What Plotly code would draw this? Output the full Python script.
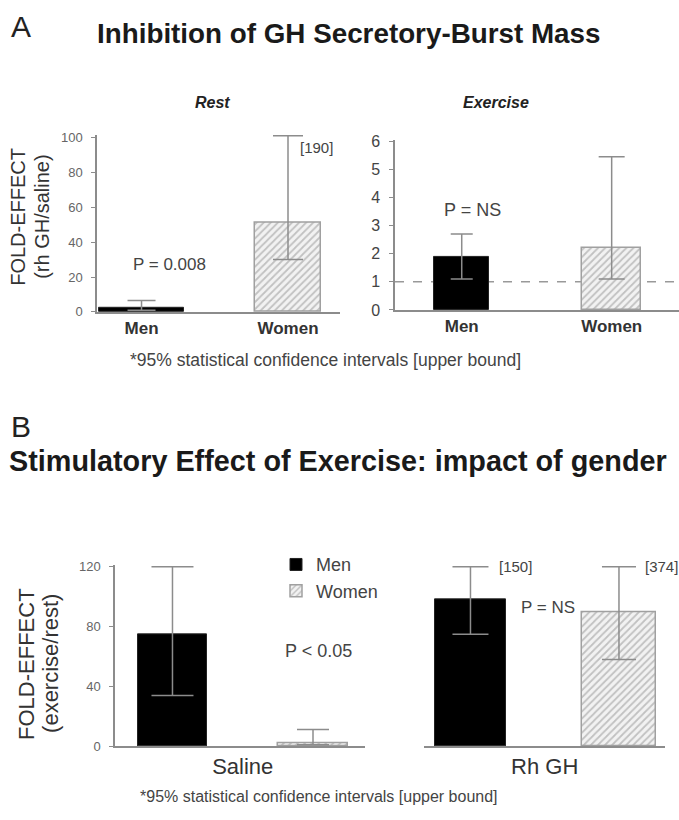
import plotly.graph_objects as go

W, H = 679, 820

# ---------------- data ----------------
sexes = ["Men", "Women"]

# Panel A (fold effect rh GH / saline)
rest_fold = [2.5, 51.0]
rest_lower = [1.0, 30.0]
rest_upper = [6.6, 190.0]
exercise_fold = [1.9, 2.2]
exercise_lower = [1.1, 1.1]
exercise_upper = [2.7, 5.45]

# Panel B (fold effect exercise / rest)
saline_fold = [75.0, 2.2]
saline_lower = [34.0, 1.0]
saline_upper = [120.0, 11.3]
rhgh_fold = [98.5, 89.5]
rhgh_lower = [75.0, 58.0]
rhgh_upper = [150.0, 374.0]

rest_ticks = [0, 20, 40, 60, 80, 100]
exercise_ticks = [0, 1, 2, 3, 4, 5, 6]
b_ticks = [0, 40, 80, 120]
reference_line = 1.0

FONT = "Liberation Sans, Arial, sans-serif"
ERR = "#8c8c8c"
AX = "#8c8c8c"


def xp(p):
    return p / W


def yp(p):
    return 1 - p / H


fig = go.Figure()


def add_bar(i, vals, lo, hi, shown_max, xa, ya, width, capw, showlegend=False):
    v = vals[i]
    up = min(hi[i], shown_max)
    men = sexes[i] == "Men"
    if men:
        marker = dict(color="#000000", line=dict(color="#222222", width=1))
    else:
        marker = dict(color="#f2f2f2",
                      pattern=dict(shape="/", fgcolor="#8f8f8f", bgcolor="#f2f2f2",
                                   size=5, solidity=0.35),
                      line=dict(color="#a0a0a0", width=1.5))
    fig.add_trace(go.Bar(
        x=[i], y=[v], width=width, xaxis=xa, yaxis=ya,
        name=sexes[i], legendgroup=sexes[i], showlegend=showlegend,
        marker=marker,
        error_y=dict(type="data", symmetric=False, array=[up - v],
                     arrayminus=[v - lo[i]], color=ERR, thickness=1.5, width=capw),
        hoverinfo="skip",
    ))


# Panel A left (rest)
add_bar(0, rest_fold, rest_lower, rest_upper, 101, "x", "y", 0.58, 14)
add_bar(1, rest_fold, rest_lower, rest_upper, 101, "x", "y", 0.45, 15)
# Panel A right (exercise)
add_bar(0, exercise_fold, exercise_lower, exercise_upper, 6, "x2", "y2", 0.37, 11)
add_bar(1, exercise_fold, exercise_lower, exercise_upper, 6, "x2", "y2", 0.39, 13)
# Panel B left (saline)
add_bar(0, saline_fold, saline_lower, saline_upper, 120, "x3", "y3", 0.49, 21, True)
add_bar(1, saline_fold, saline_lower, saline_upper, 120, "x3", "y3", 0.50, 16, True)
# Panel B right (rh GH)
add_bar(0, rhgh_fold, rhgh_lower, rhgh_upper, 120, "x4", "y4", 0.48, 18)
add_bar(1, rhgh_fold, rhgh_lower, rhgh_upper, 120, "x4", "y4", 0.50, 17)

common_x = dict(showgrid=False, zeroline=False, showline=True, linecolor=AX,
                linewidth=1.5, ticks="", fixedrange=True)
common_y = dict(showgrid=False, zeroline=False, showline=True, linecolor=AX,
                linewidth=1.5, ticks="outside", ticklen=4, tickcolor=AX,
                tickwidth=1.2, fixedrange=True, ticklabelstandoff=6)

# pixel geometry
tl_ppu = (311 - 133) / 100
tl_top = 311 - 101.5 * tl_ppu
tr_ppu = (309 - 137) / 6
tr_top = 309 - 6.05 * tr_ppu
b_ppu = (754 - 571) / 120
b_top = 754 - 121 * b_ppu

fig.update_layout(
    xaxis=dict(common_x, domain=[xp(97), xp(340)], range=[-0.304, 1.355],
               tickvals=[0, 1], ticktext=["<b>Men</b>", "<b>Women</b>"],
               tickfont=dict(size=17, color="#333333"), anchor="y"),
    yaxis=dict(common_y, domain=[yp(311), yp(tl_top)], range=[0, 101.5],
               tickvals=rest_ticks, tickfont=dict(size=13, color="#666666"),
               anchor="x"),
    xaxis2=dict(common_x, domain=[xp(395), 1.0], range=[-0.445, 1.449],
                tickvals=[0, 1], ticktext=["<b>Men</b>", "<b>Women</b>"],
                tickfont=dict(size=17, color="#333333"), anchor="y2"),
    yaxis2=dict(common_y, domain=[yp(309), yp(tr_top)], range=[0, 6.05],
                tickvals=exercise_ticks, tickfont=dict(size=16, color="#444444"),
                anchor="x2"),
    xaxis3=dict(common_x, domain=[xp(115), xp(365)], range=[-0.409, 1.37],
                tickvals=[0.5], ticktext=["Saline"],
                tickfont=dict(size=22, color="#333333"), anchor="y3"),
    yaxis3=dict(common_y, domain=[yp(754), yp(b_top)], range=[0, 121],
                tickvals=b_ticks, tickfont=dict(size=13, color="#666666"),
                anchor="x3"),
    xaxis4=dict(common_x, domain=[xp(424), xp(665)], range=[-0.313, 1.31],
                tickvals=[0.5], ticktext=["Rh GH"],
                tickfont=dict(size=22, color="#333333"), anchor="y4"),
    yaxis4=dict(domain=[yp(754), yp(b_top)], range=[0, 121], visible=False,
                fixedrange=True, anchor="x4"),
)

fig.add_shape(type="line", xref="x2 domain", yref="y2", x0=0, x1=1,
              y0=reference_line, y1=reference_line, layer="below",
              line=dict(color="#999999", width=1.5, dash="dash"))

ann = []


def text(t, x, y, size, color="#333333", xanchor="left", angle=0):
    ann.append(dict(text=t, x=xp(x), y=yp(y), xref="paper", yref="paper",
                    xanchor=xanchor, yanchor="middle", showarrow=False,
                    textangle=angle, font=dict(size=size, color=color, family=FONT)))


text("A", 9, 20, 30, "#222222")
text("<b>Inhibition of GH Secretory-Burst Mass</b>", 95, 27, 27.8, "#1a1a1a")
text("<b><i>Rest</i></b>", 212, 97, 16, "#222222", "center")
text("<b><i>Exercise</i></b>", 496, 97, 16, "#222222", "center")
text("P = 0.008", 169, 263, 17, "#444444", "center")
text("[190]", 298, 143, 15, "#444444")
text("P = NS", 472, 207, 18, "#444444", "center")
text("*95% statistical confidence intervals [upper bound]", 128, 360, 17.5, "#444444")
text("FOLD-EFFECT", 18, 214, 20, "#333333", "center", -90)
text("(rh GH/saline)", 42, 214, 20, "#333333", "center", -90)

text("B", 9, 428, 30, "#222222")
text("<b>Stimulatory Effect of Exercise: impact of gender</b>", 7, 463, 28.8, "#1a1a1a")
text("P < 0.05", 283, 657, 18, "#444444")
text("[150]", 497, 571, 15, "#444444")
text("[374]", 643, 571, 15, "#444444")
text("P = NS", 548, 612, 17, "#444444", "center")
text("*95% statistical confidence intervals [upper bound]", 138, 805, 16, "#444444")
text("FOLD-EFFECT", 27, 670, 22, "#333333", "center", -90)
text("(exercise/rest)", 51, 670, 22, "#333333", "center", -90)

fig.update_layout(
    annotations=ann,
    width=W, height=H,
    margin=dict(l=0, r=0, t=0, b=0),
    paper_bgcolor="white", plot_bgcolor="white",
    font=dict(family=FONT, color="#333333"),
    bargap=0,
    showlegend=True,
    legend=dict(x=xp(276), y=yp(550), xanchor="left", yanchor="top",
                font=dict(size=18, color="#444444", family=FONT),
                bgcolor="rgba(0,0,0,0)", tracegroupgap=10, traceorder="normal"),
)

fig.write_html("out.html", config={"displayModeBar": False},
               post_script="document.body.style.margin='0';document.body.style.overflow='hidden';")
